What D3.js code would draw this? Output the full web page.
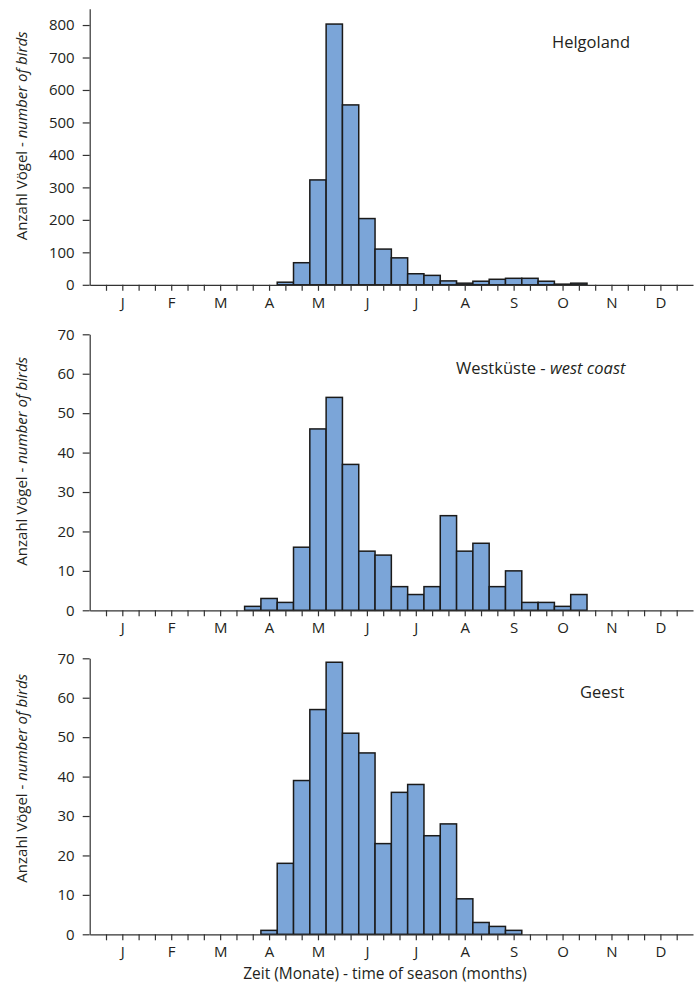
<!DOCTYPE html>
<html lang="de">
  <head>
    <meta charset="utf-8" />
    <title>Anzahl Vögel</title>
    <script src="https://d3js.org/d3.v7.min.js"></script>
    <style>
      body { margin: 0; background: #fff; }
      text { font-family: "Open Sans", sans-serif; fill: #231f20; }
      .bar { fill: #7ba5d8; stroke: #1a1a1a; stroke-width: 1.5px; }
      .axis path, .axis line { stroke: #333; stroke-width: 1.2px; }
      .axis text { font-size: 15px; }
    </style>
  </head>
<body>
<script>

// month labels, one per month; each month has 3 decades (36 bins)
var months = ["J", "F", "M", "A", "M", "J", "J", "A", "S", "O", "N", "D"];
var decades = d3.range(36);

// counts per decade (Jan 1st decade ... Dec 3rd decade)
var helgoland = [0,0,0,0,0,0,0,0,0,0,0, 8,68,323,803,554,204,110,83,34,29,12,5,11,17,20,20,11,2,5, 0,0,0,0,0,0];
var westkueste = [0,0,0,0,0,0,0,0,0, 1,3,2,16,46,54,37,15,14,6,4,6,24,15,17,6,10,2,2,1,4, 0,0,0,0,0,0];
var geest = [0,0,0,0,0,0,0,0,0,0, 1,18,39,57,69,51,46,23,36,38,25,28,9,3,2,1, 0,0,0,0,0,0,0,0,0,0];

var yMaxes = [850, 70, 70];
var yTickSteps = [100, 10, 10];

var width = 694, height = 984;

var svg = d3.select("body").append("svg")
    .attr("width", width)
    .attr("height", height);

// shared x scale, in decade units
var x = d3.scaleLinear().domain([-1, 36]).range([89.7, 693]);

var panels = [
  {values: helgoland, top: 8.8, titleX: 552, labelDy: 127, title: [["Helgoland", false]]},
  {values: westkueste, top: 334.3, titleX: 456, labelDy: 127, title: [["Westküste - ", false], ["west coast", true]]},
  {values: geest, top: 658.3, titleX: 580, labelDy: 120, title: [["Geest", false]]}
];
var plotH = 276;

panels.forEach(function(p, k) {
  var y = d3.scaleLinear().domain([0, yMaxes[k]]).range([p.top + plotH, p.top]);
  var g = svg.append("g");

  // bars
  g.selectAll(".bar")
      .data(decades.filter(function(i) { return p.values[i] > 0; }))
    .enter().append("rect")
      .attr("class", "bar")
      .attr("x", function(i) { return x(i - 0.5); })
      .attr("width", function(i) { return x(i + 0.5) - x(i - 0.5); })
      .attr("y", function(i) { return y(p.values[i]); })
      .attr("height", function(i) { return y(0) - y(p.values[i]); });

  // x axis
  g.append("g")
      .attr("class", "axis")
      .attr("transform", "translate(0," + y(0) + ")")
      .call(d3.axisBottom(x)
        .tickValues(decades)
        .tickSize(6)
        .tickSizeOuter(0)
        .tickPadding(6.5)
        .tickFormat(function(i) { return i % 3 === 1 ? months[(i - 1) / 3] : ""; }));

  // y axis
  g.append("g")
      .attr("class", "axis")
      .attr("transform", "translate(" + x(-1) + ",0)")
      .call(d3.axisLeft(y)
        .tickValues(d3.range(0, yMaxes[k] + 1, yTickSteps[k]))
        .tickSize(7)
        .tickSizeOuter(0)
        .tickPadding(8));

  // y label
  var yl = g.append("text")
      .attr("transform", "translate(27," + (p.top + p.labelDy) + ") rotate(-90)")
      .attr("text-anchor", "middle")
      .style("font-size", "15px");
  yl.append("tspan").text("Anzahl Vögel - ");
  yl.append("tspan").style("font-style", "italic").text("number of birds");

  // panel title
  var t = g.append("text")
      .attr("x", p.titleX)
      .attr("y", p.top + 39.5)
      .style("font-size", "16.5px");
  p.title.forEach(function(part) {
    t.append("tspan").style("font-style", part[1] ? "italic" : "normal").text(part[0]);
  });
});

// x axis title
svg.append("text")
    .attr("x", 385)
    .attr("y", 979)
    .attr("text-anchor", "middle")
    .style("font-size", "15.5px")
    .text("Zeit (Monate) - time of season (months)");

</script>
  </body>
</html>
